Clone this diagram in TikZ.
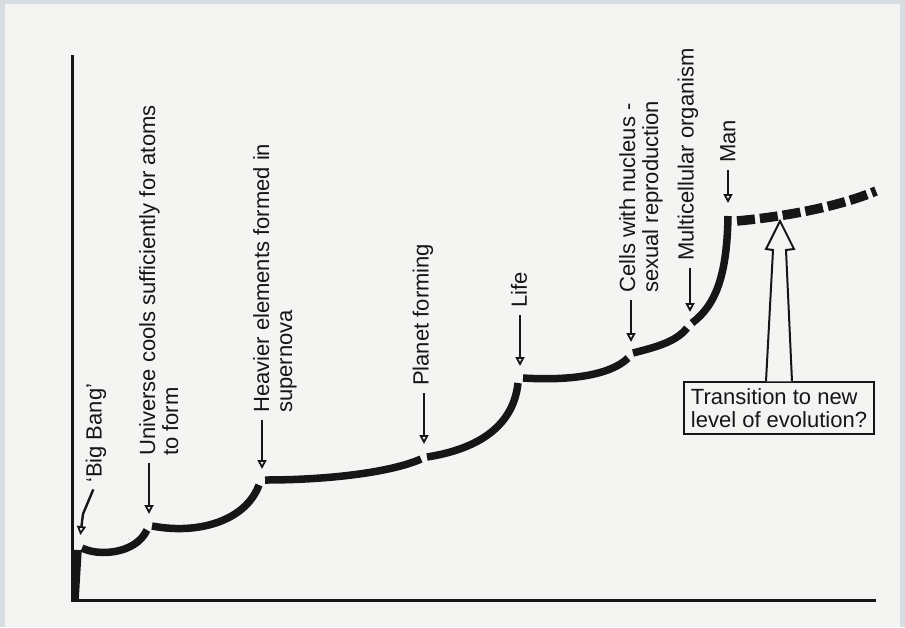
\documentclass[tikz,border=0pt]{standalone}
\usepackage{fontspec}
\setmainfont{Liberation Sans}
\usetikzlibrary{arrows.meta}

\definecolor{paper}{RGB}{244,244,243}
\definecolor{rim}{RGB}{216,221,226}
\definecolor{ink}{RGB}{22,22,22}

\begin{document}
\begin{tikzpicture}[x=1pt, y=-1pt,
  event/.style={rotate=90, inner sep=0pt, align=left, text=ink,
    font=\fontsize{22}{23}\selectfont},
  pointer/.style={draw=ink, line width=2.4pt, shorten <=7pt, shorten >=13pt,
    -{Triangle[open, length=9pt, width=9pt, line width=1.8pt]}},
  growth/.style={draw=ink, line width=7.5pt, line cap=butt},
  future/.style={draw=ink, line width=9.5pt, dash pattern=on 18pt off 5pt}]

  % Paper
  \fill[rim] (0,0) rectangle (905,627);
  \fill[paper] (5,4) rectangle (900,627);
  \useasboundingbox (0,0) rectangle (905,627);

  % Axes
  \coordinate (top) at (72,55);
  \coordinate (origin) at (72,600);
  \coordinate (right) at (876,600);
  \draw[ink, line width=3pt] (top) -- (origin) -- (right);

  % Breaks on the curve
  \coordinate (bang)   at (79,546);
  \coordinate (atoms)  at (149,527);
  \coordinate (heavy)  at (262,482);
  \coordinate (planet) at (424,457);
  \coordinate (life)   at (520,379);
  \coordinate (cells)  at (631,355);
  \coordinate (multi)  at (690,325);
  \coordinate (man)    at (728,216);
  \coordinate (later)  at (876,191);

  % Growth curve, one piece between two events
  \draw[growth] (75,600) -- (78,550);
  \draw[growth] (82,548) .. controls (97,556) and (135,555) .. (147,530);
  \draw[growth] (152,526) .. controls (200,535) and (246,520) .. (259,485);
  \draw[growth] (265,480) .. controls (330,480) and (392,472) .. (421,459);
  \draw[growth] (427,457) .. controls (472,450) and (513,430) .. (518,383);
  \draw[growth] (523,378) .. controls (570,381) and (611,375) .. (628,358);
  \draw[growth] (633,353) .. controls (656,347) and (676,342) .. (687,328);
  \draw[growth] (692,323) .. controls (716,305) and (727,275) .. (man);
  \draw[future] (737,221) .. controls (790,216) and (840,206) .. (later);

  % Events
  \node[event, anchor=west] (bangtxt) at (96,483) {‘Big Bang’};
  \node[event, anchor=north west] (atomstxt) at (139,456)
    {Universe cools sufficiently for atoms\\to form};
  \node[event, anchor=north west] (heavytxt) at (253,413)
    {Heavier elements formed in\\supernova};
  \node[event, anchor=west] (planettxt) at (423,386) {Planet forming};
  \node[event, anchor=west] (lifetxt) at (519,308) {Life};
  \node[event, anchor=north west] (cellstxt) at (619,293)
    {Cells with nucleus -\\sexual reproduction};
  \node[event, anchor=west] (multitxt) at (688,261) {Multicellular organism};
  \node[event, anchor=west] (mantxt) at (728,163) {Man};

  % Pointers
  \coordinate (bangbend) at (83,514);
  \draw[pointer, shorten >=11pt] (bangtxt.west) -- (bangbend) -- (bang);
  \draw[pointer] (atomstxt.north west -| atoms) -- (atoms);
  \draw[pointer] (heavytxt.north west -| heavy) -- (heavy);
  \draw[pointer] (planettxt.west -| planet) -- (planet);
  \draw[pointer] (lifetxt.west -| life) -- (life);
  \draw[pointer] (cellstxt.north west -| cells) -- (cells);
  \draw[pointer] (multitxt.west -| multi) -- (multi);
  \draw[pointer] (mantxt.west -| man) -- (man);

  % Question box with hollow arrow
  \node[draw=ink, line width=2pt, inner xsep=7pt, inner ysep=6pt, align=left,
    text=ink, font=\fontsize{22}{23}\selectfont] (newlvl) at (779,408)
    {Transition to new\\level of evolution?};
  \coordinate (newtip) at (780,221);
  \draw[ink, line width=2pt, fill=paper, line join=miter]
    (newlvl.north) ++(-13,0) -- (773,250) -- (766,249) -- (newtip)
    -- (794,249) -- (786,250) -- ([xshift=13pt]newlvl.north);
\end{tikzpicture}
\end{document}
